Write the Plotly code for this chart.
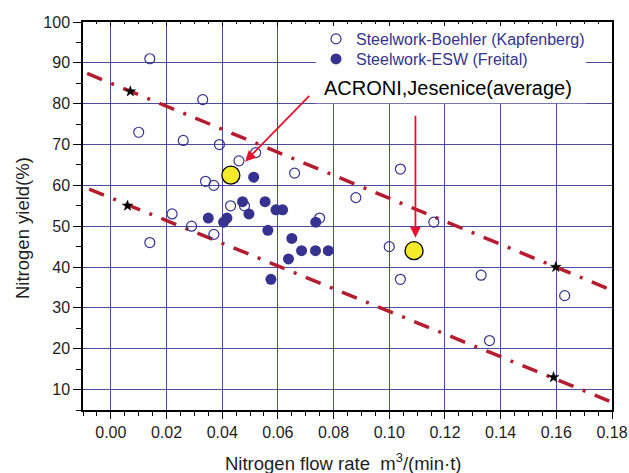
import plotly.graph_objects as go

# Steelwork-Boehler (Kapfenberg) - open circles
boehler_x = [0.010, 0.014, 0.014, 0.022, 0.026, 0.029, 0.033, 0.034, 0.037, 0.037, 0.039,
             0.043, 0.046, 0.048, 0.052, 0.066, 0.075, 0.088, 0.100, 0.104, 0.104, 0.116,
             0.133, 0.136, 0.163]
boehler_y = [73, 91, 46, 53, 71, 50, 81, 61, 60, 48, 70,
             55, 66, 55, 68, 63, 52, 57, 45, 64, 37, 51,
             38, 22, 33]

# Steelwork-ESW (Freital) - filled circles
esw_x = [0.035, 0.0405, 0.0417, 0.0473, 0.0496, 0.0513, 0.0554, 0.0564, 0.0575, 0.0593,
         0.0617, 0.0638, 0.065, 0.0685, 0.0736, 0.0735, 0.0781]
esw_y = [52, 51, 52, 56, 53, 62, 56, 49, 37, 54,
         54, 42, 47, 44, 51, 44, 44]

# ACRONI, Jesenice (average) - yellow circles
acroni_x = [0.0431, 0.1089]
acroni_y = [62.5, 44]

# Stars marking the band limits
star_x = [0.007, 0.006, 0.1598, 0.159]
star_y = [83, 55, 40, 13]

# Dash-dot band lines
upper_x = [-0.0085, 0.1786]
upper_y = [87.4, 34.7]
lower_x = [-0.0078, 0.179]
lower_y = [59.1, 7.2]

# Arrows (tail -> head)
arrow_tail_x = [0.0718, 0.1094]
arrow_tail_y = [82.3, 77.4]
arrow_head_x = [0.0482, 0.1094]
arrow_head_y = [65.8, 47.2]

NAVY = "#35338f"
RED_LINE = "#b51d2e"
ARROW = "#e8112d"
FONT = "Liberation Sans, Arial, sans-serif"
TXT = "#1e1e1e"

fig = go.Figure()

fig.add_trace(go.Scatter(x=upper_x, y=upper_y, mode="lines", showlegend=False,
                         line=dict(color=RED_LINE, width=3.5, dash="16px,10px,3px,10px"),
                         hoverinfo="skip"))
fig.add_trace(go.Scatter(x=lower_x, y=lower_y, mode="lines", showlegend=False,
                         line=dict(color=RED_LINE, width=3.5, dash="16px,10px,3px,10px"),
                         hoverinfo="skip"))

fig.add_trace(go.Scatter(x=boehler_x, y=boehler_y, mode="markers",
                         name="Steelwork-Boehler (Kapfenberg)", legend="legend",
                         marker=dict(symbol="circle-open", size=10, color=NAVY,
                                     line=dict(width=1.2, color=NAVY))))
fig.add_trace(go.Scatter(x=esw_x, y=esw_y, mode="markers",
                         name="Steelwork-ESW (Freital)", legend="legend2",
                         marker=dict(symbol="circle", size=11, color=NAVY)))
fig.add_trace(go.Scatter(x=acroni_x, y=acroni_y, mode="markers", showlegend=False,
                         marker=dict(symbol="circle", size=18, color="#f5ea2a",
                                     line=dict(width=1.3, color="black"))))
fig.add_trace(go.Scatter(x=star_x, y=star_y, mode="markers", showlegend=False,
                         marker=dict(symbol="star", size=8, color="black",
                                     line=dict(width=0.5, color="black"))))
# dummy trace for top mirror axis
fig.add_trace(go.Scatter(x=star_x, y=star_y, xaxis="x2", mode="markers", showlegend=False,
                         marker=dict(opacity=0), hoverinfo="skip"))

# white legend box
fig.add_shape(type="rect", xref="x", yref="y", x0=0.0736, x1=0.1707, y0=80.1, y1=100,
              fillcolor="white", line=dict(width=0), layer="between")

fig.add_annotation(x=0.0757, y=83.8, xref="x", yref="y", text="ACRONI,Jesenice(average)",
                   showarrow=False, xanchor="left", yanchor="middle",
                   font=dict(family=FONT, size=20, color="black"))

for tx, ty, hx, hy in zip(arrow_tail_x, arrow_tail_y, arrow_head_x, arrow_head_y):
    fig.add_annotation(x=hx, y=hy, ax=tx, ay=ty, xref="x", yref="y", axref="x", ayref="y",
                       text="", showarrow=True, arrowhead=2, arrowsize=1.2, arrowwidth=1.8,
                       arrowcolor=ARROW)

# axis titles
fig.add_annotation(x=(343 - 83) / 529, y=-(462 - 410) / 388, xref="paper", yref="paper",
                   text="Nitrogen flow rate  m<sup>3</sup>/(min·t)", showarrow=False,
                   xanchor="center", yanchor="middle", font=dict(family=FONT, size=18.5, color=TXT))
fig.add_annotation(x=-(83 - 22) / 529, y=(410 - 228) / 388, xref="paper", yref="paper",
                   text="Nitrogen yield(%)", showarrow=False, textangle=-90,
                   xanchor="center", yanchor="middle", font=dict(family=FONT, size=18.5, color=TXT))

grid = "rgba(45,43,140,0.85)"
legend_common = dict(xanchor="left", yanchor="middle", bgcolor="rgba(0,0,0,0)",
                     font=dict(family=FONT, size=16, color=NAVY), itemwidth=30,
                     borderwidth=0)
fig.update_layout(
    width=629, height=473,
    margin=dict(l=83, r=17, t=22, b=63, autoexpand=False),
    paper_bgcolor="white", plot_bgcolor="white",
    font=dict(family=FONT, size=16, color=TXT),
    showlegend=True,
    legend=dict(x=(316 - 83) / 529, y=(410 - 39) / 388, **legend_common),
    legend2=dict(x=(316 - 83) / 529, y=(410 - 59) / 388, **legend_common),
    xaxis=dict(range=[-0.01, 0.18], tick0=0, dtick=0.02, tickformat=".2f", automargin=False,
               showgrid=True, gridcolor=grid, gridwidth=1, zeroline=False,
               showline=True, linecolor="black", linewidth=1.5, mirror=True,
               ticks="outside", ticklen=7, tickwidth=1.2, tickcolor="black",
               minor=dict(dtick=0.005, ticks="outside", ticklen=4, tickcolor="black", showgrid=False),
               tickfont=dict(size=16, color=TXT)),
    xaxis2=dict(overlaying="x", side="top", matches="x", showticklabels=False, automargin=False,
                showgrid=False, zeroline=False, showline=False, tick0=0, dtick=0.02,
                ticks="inside", ticklen=4, tickcolor="black",
                minor=dict(dtick=0.005, ticks="inside", ticklen=2, tickcolor="black")),
    yaxis=dict(range=[5, 100], tick0=0, dtick=10, automargin=False,
               showgrid=True, gridcolor=grid, gridwidth=1, zeroline=False,
               showline=True, linecolor="black", linewidth=1.5, mirror=True,
               ticks="outside", ticklen=8, tickwidth=1.2, tickcolor="black",
               minor=dict(dtick=5, ticks="outside", ticklen=5, tickcolor="black", showgrid=False),
               tickfont=dict(size=16, color=TXT)),
)

fig.write_html("out.html", config={"displayModeBar": False},
               post_script="document.body.style.margin='0';")
